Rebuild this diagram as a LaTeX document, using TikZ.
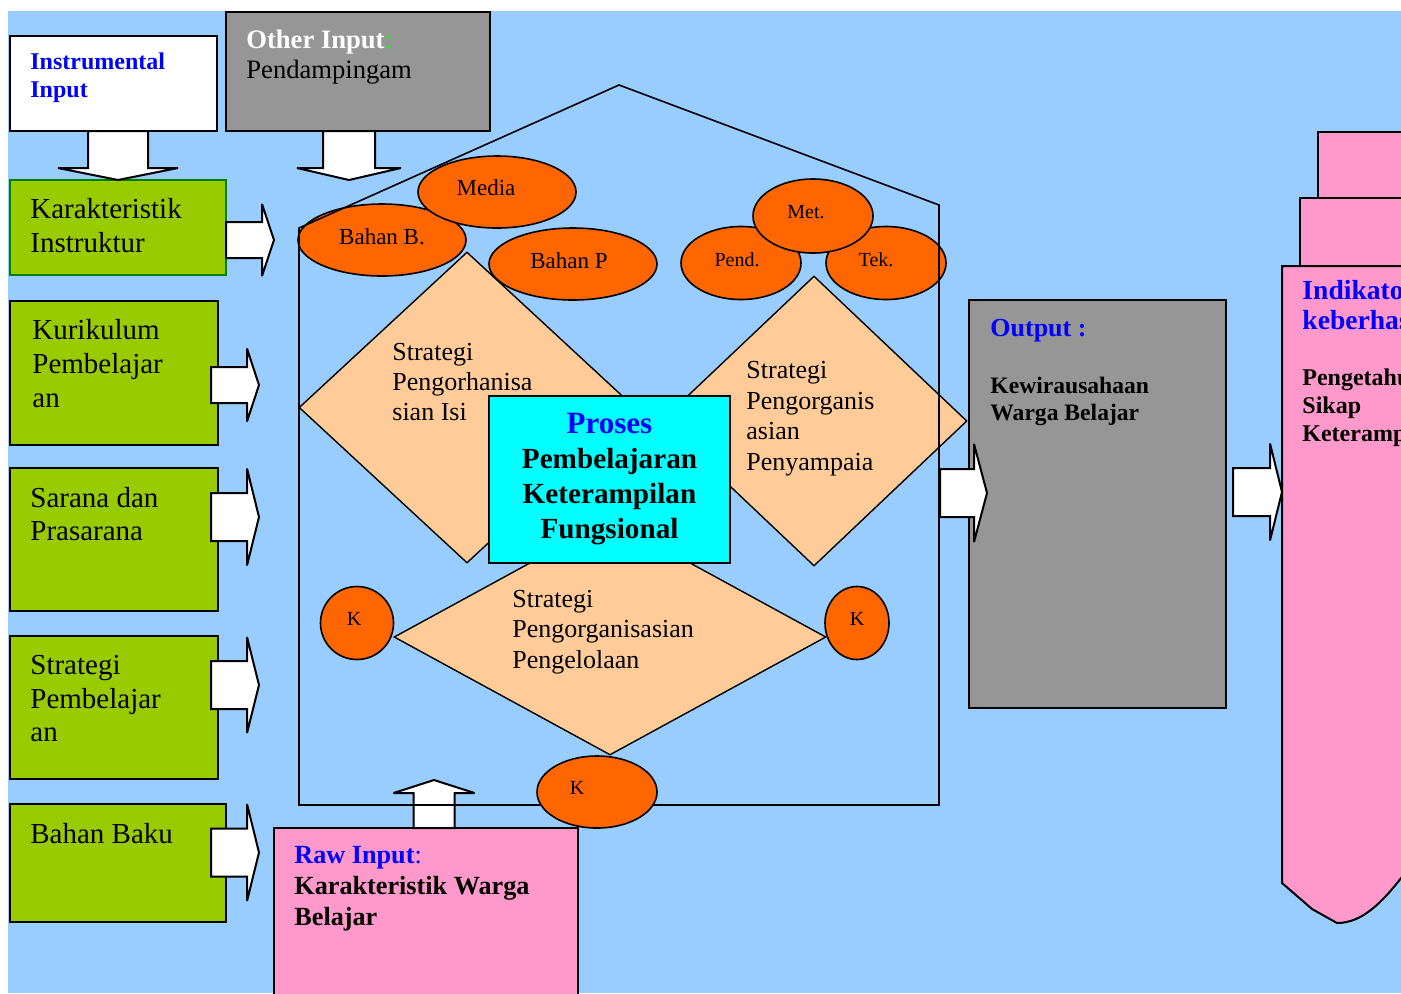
\documentclass[tikz,border=0pt]{standalone}
\usepackage{fontspec}
\setmainfont{Liberation Serif}
\usetikzlibrary{shapes.geometric,calc}
\definecolor{skyb}{HTML}{99CCFF}
\definecolor{leaf}{HTML}{99CC00}
\definecolor{rust}{HTML}{FF6600}
\definecolor{peach}{HTML}{FFCC99}
\definecolor{aqua}{HTML}{00FFFF}
\definecolor{rose}{HTML}{FF99CC}
\definecolor{ash}{HTML}{969696}
\definecolor{ttlblue}{HTML}{0000FF}
\definecolor{lime}{HTML}{00FF00}
\tikzset{
  box/.style={draw, line width=1pt, rectangle, anchor=north west, inner sep=0pt, outer sep=0pt},
  gbox/.style={box, fill=leaf},
  oval/.style={draw, line width=0.8pt, ellipse, fill=rust, inner sep=0pt},
  kite/.style={draw, line width=0.7pt, diamond, fill=peach, inner sep=0pt},
  txt/.style={anchor=north west, inner sep=0pt, align=left},
  tag/.style={inner sep=0pt, font=\fontsize{11.5}{13}\selectfont},
  smalltag/.style={inner sep=0pt, font=\fontsize{10}{12}\selectfont},
  blk/.style={draw, line width=1pt, fill=white, miter limit=2.5},
}
% wide block arrow: tail, tip, half shaft, half head, head length
\newcommand{\blockarrow}[5]{%
  \coordinate (ba-h) at ($(#2)!#5!(#1)$);
  \draw[blk] ($(#1)!#3!90:(#2)$) -- ($(ba-h)!#3!-90:(#1)$) -- ($(ba-h)!#4!-90:(#1)$) -- (#2)
    -- ($(ba-h)!#4!90:(#1)$) -- ($(ba-h)!#3!90:(#1)$) -- ($(#1)!#3!-90:(#2)$) -- cycle;}

\begin{document}
\begin{tikzpicture}[x=0.5pt,y=-0.5pt]
\useasboundingbox (0,0) rectangle (1401,993);
\clip (0,0) rectangle (1401,993);
\fill[skyb] (8,11) rectangle (1401,993);
% input boxes
\node[box, fill=white, minimum width=103.5pt, minimum height=47.5pt] (instr) at (10,36) {};
\node[box, fill=ash, minimum width=132pt, minimum height=59.5pt] (other) at (226,12) {};
\node[gbox, draw=green!50!black, minimum width=108pt, minimum height=47.5pt] (kar) at (10,180) {};
\node[gbox, minimum width=104pt, minimum height=72pt] (kur) at (10,301) {};
\node[gbox, minimum width=104pt, minimum height=71.5pt] (sar) at (10,468) {};
\node[gbox, minimum width=104pt, minimum height=71.5pt] (str) at (10,636) {};
\node[gbox, minimum width=108pt, minimum height=59pt] (bah) at (10,804) {};
\node[box, fill=rose, minimum width=152pt, minimum height=90pt] (raw) at (274,828) {};
% output side
\node[box, fill=ash, minimum width=128.5pt, minimum height=204pt] (out) at (969,300) {};
\node[box, fill=rose, minimum width=60pt, minimum height=33pt] (ind3) at (1318,132) {};
\node[box, fill=rose, minimum width=70pt, minimum height=34pt] (ind2) at (1300,198) {};
\draw[line width=1pt, fill=rose] (1282,266) -- (1282,883) -- (1312,909) -- (1337,923)
  .. controls (1362,923) and (1382,903) .. (1405,873) -- (1430,840) -- (1430,266) -- cycle;
% process
\node[kite, minimum width=168pt, minimum height=155.5pt] (dL) at (467,407.5) {};
\node[kite, minimum width=153pt, minimum height=145pt] (dR) at (814,421) {};
\node[kite, minimum width=216pt, minimum height=118pt] (dB) at (610,637) {};
\node[box, fill=aqua, minimum width=120.5pt, minimum height=83.5pt, align=center,
  font=\fontsize{14.6}{17.5}\selectfont\bfseries] (proc) at (489,396)
  {{\color{ttlblue}\fontsize{15.5}{17.5}\selectfont Proses}\\Pembelajaran\\Keterampilan\\Fungsional};
\node[oval, minimum width=84pt, minimum height=36pt, label={[tag, yshift=1.5pt]center:Bahan B.}] (bahB) at (382,240) {};
\node[oval, minimum width=79pt, minimum height=36pt, label={[tag, xshift=-5.5pt, yshift=2pt]center:Media}] (media) at (497,192) {};
\node[oval, minimum width=84pt, minimum height=36pt, label={[tag, xshift=-2pt, yshift=1.5pt]center:Bahan P}] (bahP) at (573,264) {};
\node[oval, minimum width=60pt, minimum height=36.5pt, label={[smalltag, xshift=-2pt, yshift=1.5pt]center:Pend.}] (pend) at (741,263) {};
\node[oval, minimum width=60pt, minimum height=36.5pt, label={[smalltag, xshift=-5pt, yshift=1.5pt]center:Tek.}] (tek) at (886,263) {};
\node[oval, minimum width=60pt, minimum height=37pt, label={[smalltag, xshift=-3.5pt, yshift=2pt]center:Met.}] (met) at (813,216) {};
\node[oval, minimum width=36.5pt, minimum height=36.5pt, label={[smalltag, xshift=-1.5pt, yshift=2pt]center:K}] (kL) at (357,623) {};
\node[oval, minimum width=32pt, minimum height=36.5pt, label={[smalltag, yshift=2pt]center:K}] (kR) at (857,623) {};
% block arrows
\blockarrow{118,131}{118,180}{15pt}{30pt}{6pt}
\blockarrow{349,131}{349,180}{13pt}{26pt}{6pt}
\blockarrow{226,240}{274,240}{9pt}{18pt}{6pt}
\blockarrow{211,385}{259,385}{9pt}{18.25pt}{6pt}
\blockarrow{211,517}{259,517}{12pt}{24.25pt}{6pt}
\blockarrow{211,685}{259,685}{12pt}{24pt}{6pt}
\blockarrow{211,852.5}{259,852.5}{12pt}{24.25pt}{6pt}
\blockarrow{434,828}{434,780}{10.25pt}{20.25pt}{6.5pt}
\blockarrow{940,493}{987,493}{12pt}{24.5pt}{6.5pt}
\blockarrow{1233,492}{1282,492}{12pt}{24.25pt}{6pt}
% house outline
\draw[line width=0.8pt] (299,805) -- (299,228) -- (619,85) -- (939,205) -- (939,805) -- cycle;
\node[oval, minimum width=60pt, minimum height=36pt, label={[smalltag, xshift=-10pt, yshift=2pt]center:K}] (kB) at (597,792) {};
% texts
\node[txt, text=ttlblue, font=\fontsize{12}{14}\selectfont\bfseries] (instrT) at (30,52.6) {Instrumental\\Input};
\node[txt, font=\fontsize{13.3}{15}\selectfont] (otherT) at (246,29.6) {{\bfseries\color{white}Other Input}{\color{lime}:}\\Pendampingam};
\node[txt, font=\fontsize{14.5}{17}\selectfont] (karT) at (30,198) {Karakteristik\\Instruktur};
\node[txt, font=\fontsize{14.5}{17}\selectfont] (kurT) at (32,319) {Kurikulum\\Pembelajar\\an};
\node[txt, font=\fontsize{14.5}{16.5}\selectfont] (sarT) at (30,487) {Sarana dan\\Prasarana};
\node[txt, font=\fontsize{14.5}{16.75}\selectfont] (strT) at (30,655) {Strategi\\Pembelajar\\an};
\node[txt, font=\fontsize{14.5}{17}\selectfont] (bahT) at (30,823) {Bahan Baku};
\node[txt, font=\fontsize{13}{15}\selectfont] (dLT) at (392,343) {Strategi\\Pengorhanisa\\sian Isi};
\node[txt, font=\fontsize{13}{15.3}\selectfont] (dRT) at (746,361) {Strategi\\Pengorganis\\asian\\Penyampaia};
\node[txt, font=\fontsize{13}{15.25}\selectfont] (dBT) at (512,589.5) {Strategi\\Pengorganisasian\\Pengelolaan};
\node[txt, font=\fontsize{13.1}{15.5}\selectfont\bfseries] (rawT) at (294,846) {{\color{ttlblue}Raw Input}{\color{ttlblue}\mdseries :}\\Karakteristik Warga\\Belajar};
\node[txt, text=ttlblue, font=\fontsize{13}{15}\selectfont\bfseries] (outT) at (990,319) {Output :};
\node[txt, font=\fontsize{11.8}{13.5}\selectfont\bfseries] (outT2) at (990,376.5) {Kewirausahaan\\Warga Belajar};
\node[txt, text=ttlblue, font=\fontsize{13.8}{15}\selectfont\bfseries] (indT) at (1302,280) {Indikator\\keberhasilan};
\node[txt, font=\fontsize{12}{14}\selectfont\bfseries] (indT2) at (1302,368) {Pengetahuan\\Sikap\\Keterampilan};
\end{tikzpicture}
\end{document}
